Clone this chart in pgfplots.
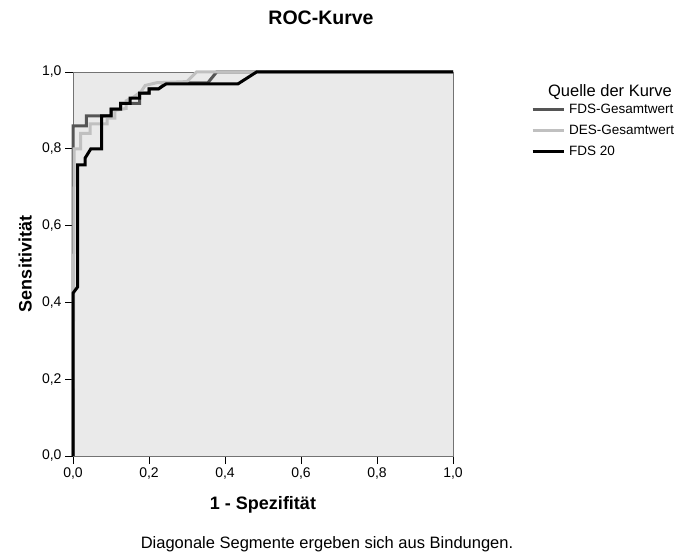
\documentclass[border=0pt]{standalone}
\usepackage{fontspec}
\setmainfont{Liberation Sans}
\usepackage{pgfplots}
\pgfplotsset{compat=1.18}
\definecolor{bgcol}{RGB}{234,234,234}
\definecolor{fdsgesamt}{RGB}{85,85,85}
\definecolor{desgesamt}{RGB}{192,192,192}

\begin{document}
\begin{tikzpicture}[x=1pt,y=1pt]
\useasboundingbox (0,0) rectangle (689,-556);
% title and caption
\node[font=\bfseries\fontsize{19.5}{19.5}\selectfont] at (321,-18) {ROC-Kurve};
\node[font=\fontsize{16.5}{16.5}\selectfont] at (327,-544) {Diagonale Segmente ergeben sich aus Bindungen.};
\node[font=\fontsize{16.5}{16.5}\selectfont] at (610,-92) {Quelle der Kurve};

\begin{axis}[
    at={(73pt,-456pt)}, anchor=south west,
    width=380pt, height=384pt, scale only axis,
    xmin=0, xmax=1, ymin=0, ymax=1,
    clip=false,
    axis background/.style={fill=bgcol},
    axis line style={draw=black!55, line width=0.8pt},
    tick align=outside, major tick length=8pt,
    xtick pos=bottom, ytick pos=left,
    tick style={black, line width=0.9pt},
    xtick={0,0.2,0.4,0.6,0.8,1},
    ytick={0,0.2,0.4,0.6,0.8,1},
    ticklabel style={font=\fontsize{14}{14}\selectfont},
    xticklabel style={/pgf/number format/.cd, fixed, fixed zerofill, precision=1, use comma, assume math mode=true},
    yticklabel style={/pgf/number format/.cd, fixed, fixed zerofill, precision=1, use comma, assume math mode=true},
    xlabel={1 - Spezifität},
    ylabel={Sensitivität},
    label style={font=\bfseries\fontsize{18}{18}\selectfont},
    xlabel style={at={(axis description cs:0.5,-0.128)}, anchor=center},
    ylabel style={at={(axis description cs:-0.126,0.5)}, anchor=center},
    legend style={at={(1.205,0.921)}, anchor=north west, draw=none, fill=none,
        font=\fontsize{13.5}{13.5}\selectfont, row sep=6pt, inner sep=0pt,
        /tikz/every odd column/.append style={column sep=2pt}},
    legend cell align=left,
    legend image code/.code={\draw[#1] (0pt,0pt) -- (31pt,0pt);},
]

% FDS-Gesamtwert
\addplot[fdsgesamt, line width=3pt, line join=miter] coordinates {
    (0,0) (0,0.86) (0.035,0.86) (0.035,0.886) (0.075,0.886) (0.10,0.886)
    (0.10,0.903) (0.125,0.903) (0.125,0.918) (0.15,0.918) (0.175,0.918)
    (0.175,0.945) (0.20,0.945) (0.20,0.956) (0.225,0.956) (0.245,0.972)
    (0.355,0.972) (0.378,1) (1,1)
};
\addlegendentry{FDS-Gesamtwert}

% DES-Gesamtwert
\addplot[desgesamt, line width=3pt, line join=miter] coordinates {
    (0,0) (0.003,0.80) (0.02,0.80) (0.02,0.84) (0.045,0.84) (0.045,0.865)
    (0.09,0.865) (0.09,0.88) (0.11,0.88) (0.11,0.90) (0.14,0.905)
    (0.14,0.925) (0.16,0.935) (0.18,0.95) (0.19,0.965) (0.22,0.972)
    (0.30,0.975) (0.325,1) (1,1)
};
\addlegendentry{DES-Gesamtwert}

% FDS 20
\addplot[black, line width=3pt, line join=miter] coordinates {
    (0,0) (0,0.424) (0.012,0.44) (0.012,0.758) (0.032,0.758) (0.032,0.776)
    (0.047,0.80) (0.075,0.80) (0.075,0.886) (0.10,0.886) (0.10,0.903)
    (0.125,0.903) (0.125,0.918) (0.15,0.918) (0.15,0.932) (0.175,0.932)
    (0.175,0.945) (0.20,0.945) (0.20,0.956) (0.225,0.956) (0.245,0.969)
    (0.434,0.969) (0.483,1) (1,1)
};
\addlegendentry{FDS 20}

\end{axis}
\end{tikzpicture}
\end{document}
